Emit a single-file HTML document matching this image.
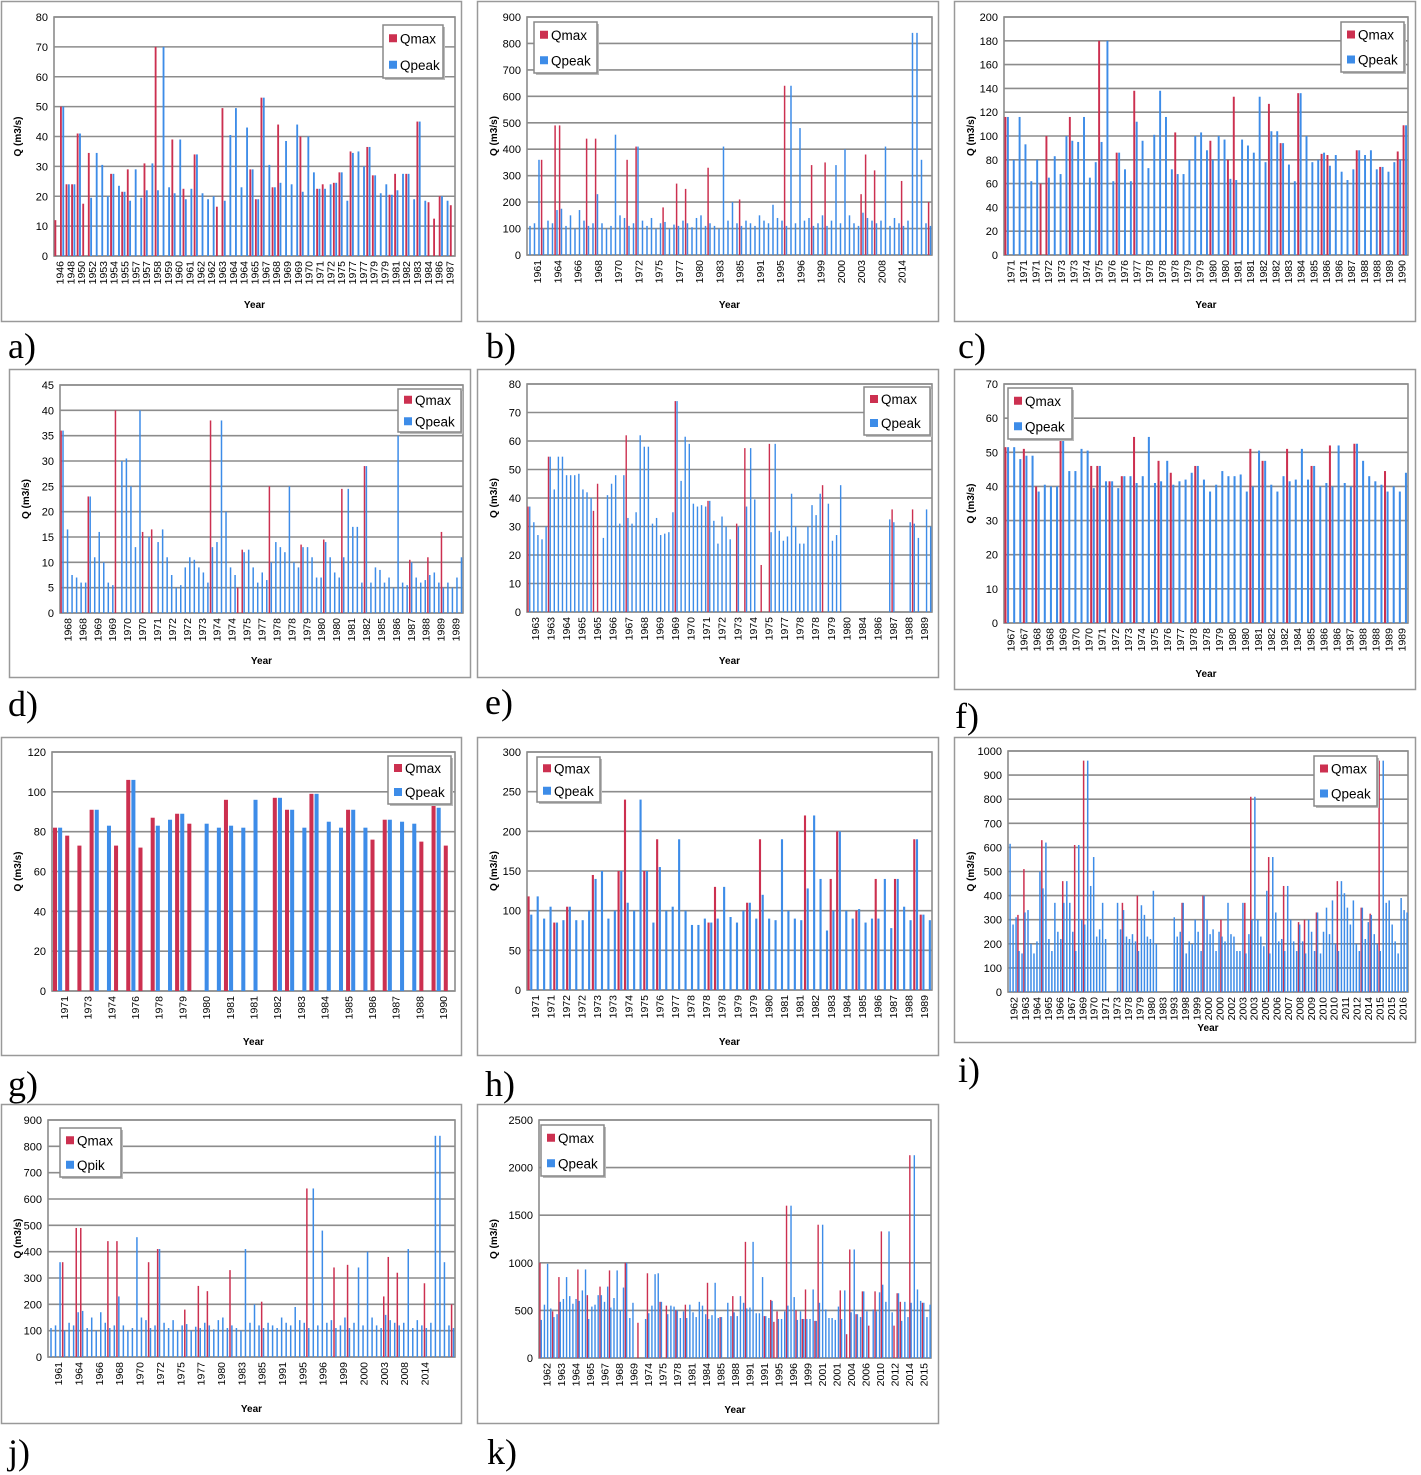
<!DOCTYPE html>
<html><head><meta charset="utf-8">
<style>
html,body{margin:0;padding:0;background:#fff;}
svg{display:block;font-family:"Liberation Sans",sans-serif;}
</style></head>
<body>
<svg id="fig" width="1421" height="1475" viewBox="0 0 1421 1475" xmlns="http://www.w3.org/2000/svg"></svg>
<script>
// ---------- DATA ----------
const aYears=[1946,1948,1950,1952,1953,1954,1955,1957,1957,1958,1959,1960,1961,1962,1962,1963,1964,1964,1965,1967,1968,1969,1969,1970,1971,1972,1975,1977,1977,1979,1979,1981,1982,1983,1984,1986,1987];
const aMax=[12,50,24,24,41,17.5,34.5,0,0,0,27.5,0,21.5,29,0,0,31,0,70,0,0,39,0,22.5,0,34,0,0,0,16.5,49.5,0,0,0,0,29,19,53,0,23,44,0,0,0,40,0,0,22.5,24,0,24.5,28,0,35,0,0,36.5,27,0,0,20.5,27.5,0,27.5,0,45,0,18,12.5,20,0,17];
const aPeak=[0,50,24,24,41,0,19.5,34.5,30.5,20,27.5,23.5,21.5,18.5,29,19.5,22,31,22,70,23,21,39,19,22.5,34,21,19,20,0,18.5,40.5,49.5,23,43,29,19,53,30.5,23,24.5,38.5,24,44,21.5,40,28,22.5,22.5,24,24.5,28,18.5,34.5,35,30,36.5,27,21,24,20.5,22,27.5,27.5,19,45,18.5,0,0,20,18.5,0];

const bYears=[1961,1964,1966,1968,1970,1972,1975,1977,1980,1983,1985,1991,1995,1996,1999,2000,2003,2008,2014,""];
const bPeak=[110,120,360,100,130,120,170,175,110,150,100,170,130,110,120,230,120,100,110,455,150,140,110,120,410,130,110,140,100,120,125,100,115,110,130,120,105,140,150,110,120,110,100,410,130,200,120,110,130,120,110,150,130,120,190,140,130,110,640,120,480,130,140,110,120,150,110,130,340,120,400,150,120,110,160,140,130,120,130,410,110,140,120,110,130,840,840,360,120,110];
const bMax=[0,0,0,360,0,0,490,490,0,0,0,0,0,440,0,440,0,0,0,0,0,0,360,0,410,0,0,0,0,0,180,0,0,270,0,250,0,0,0,0,330,0,0,0,0,0,0,210,0,0,0,0,0,0,0,0,0,640,0,0,0,0,0,340,0,0,350,0,0,0,0,0,0,0,230,380,0,320,0,0,0,0,0,280,0,0,0,0,0,200];

const cYears=[1971,1971,1971,1972,1973,1973,1974,1975,1976,1976,1977,1978,1978,1978,1979,1979,1980,1980,1981,1981,1982,1982,1983,1984,1985,1986,1986,1987,1988,1988,1989,1990];
const cMax=[116,0,0,0,0,0,60,100,0,0,0,116,0,0,0,0,180,0,0,86,0,0,138,0,0,0,0,0,0,103,0,0,0,0,0,96,0,0,80,133,0,0,0,0,0,127,0,94,0,0,136,0,0,0,85,84,0,0,0,0,88,0,0,0,74,0,0,87,109];
const cPeak=[116,80,116,93,62,80,0,65,83,68,100,96,95,116,65,78,95,180,62,86,72,62,112,96,73,101,138,116,72,68,68,80,100,103,88,80,100,97,64,63,97,92,86,133,78,104,104,94,76,62,136,100,78,80,86,75,84,70,63,72,88,84,88,72,74,70,78,80,109];

const dYears=[1968,1968,1969,1969,1970,1970,1971,1972,1972,1973,1974,1974,1975,1977,1978,1978,1979,1980,1980,1981,1982,1985,1986,1987,1988,1989,1989];
const dMax=[36,0,0,0,0,0,23,0,0,0,0,0,40,0,0,0,0,0,16,0,16.5,0,0,0,0,0,0,0,0,0,0,0,0,38,0,0,0,0,0,5,12.5,0,0,0,0,0,25,0,0,0,0,0,0,13.5,0,0,0,0,14.5,0,0,0,24.5,0,0,0,0,29,0,0,0,0,0,0,0,0,0,10.5,0,0,0,11,0,0,16,0,0,0];
const dPeak=[36,16.5,7.5,7,6,6,23,11,16,10,6,5.5,0,30,30.5,25,13,40,0,15,0,14,16.5,11,7.5,5,5.5,9,11,10.5,9,8,6,13,14,38,20,9,7.5,0,12,12.5,9,6,8,6.5,10,14,13,12,25,10,9,13,13,11,7,7,14,11,8,7,11,24.5,17,17,6,29,6,9,8.5,6,7,5,35,6,5.5,10,7,6,6.5,7.5,8,6,5,6,5,7,11];

const eYears=[1963,1963,1964,1965,1965,1966,1967,1968,1969,1969,1970,1971,1972,1973,1974,1975,1977,1978,1978,1979,1980,1984,1986,1987,1988,1989];
const eMax=[37,0,0,0,0,54.5,0,0,0,0,0,0,0,0,0,0,35.5,45,0,0,0,0,0,0,62,0,0,0,0,0,0,0,0,0,0,0,74,0,0,0,0,0,0,0,39,0,0,0,0,0,0,31,0,57.5,0,0,0,16.5,0,59,0,0,0,0,0,0,0,0,0,0,0,0,44.5,0,0,0,0,0,0,0,0,0,0,0,0,0,0,0,0,36,0,0,0,0,36,0];
const ePeak=[37,31.5,27,25.5,30,54.5,43,54.5,54.5,48,48,48,48.5,43,42,40,0,0,26,41,45,48,31,48,33,31,35,62,58,58,31,33,27,27.5,28,35,74,46,61.5,59,38,37,37.5,37,39,32,24,33.5,30,25.5,0,30,0,37,57.5,39.5,0,0,0,28,59,28.5,25,26.5,41.5,30,24,24,30,37.5,34,41.5,0,38,25,27,44.5,0,0,0,0,0,0,0,0,0,0,0,32.5,31.5,0,0,0,31.5,31,26,0,36,30];

const fYears=[1967,1967,1968,1968,1969,1970,1970,1971,1972,1973,1974,1975,1976,1977,1978,1978,1979,1980,1980,1981,1982,1982,1984,1985,1986,1986,1987,1988,1988,1989,1989];
const fMax=[51.5,0,0,51,0,40,0,0,0,54.5,0,0,0,0,46,46,0,41.5,0,43,0,54.5,0,0,0,47.5,0,44,0,0,0,46,0,0,0,0,0,0,0,0,51,0,47.5,0,0,0,51,0,0,0,46,0,0,52,0,0,0,52.5,0,0,0,0,44.5,0,0,0];
const fPeak=[51.5,51.5,48,49,49,38.5,40.5,40,40,54.5,44.5,44.5,51,50.5,39.5,46,41.5,41.5,39.5,43,43,41,43,54.5,41,41.5,47.5,40.5,41.5,42,44,46,42,38.5,40.5,44.5,43,43,43.5,38.5,40,50.5,47.5,40.5,38.5,43,41.5,42,51,42,46,40,41,40,52,41,40,52.5,47.5,43,41.5,40.5,38.5,40,38.5,44];

const gYears=[1971,1973,1974,1976,1978,1979,1980,1981,1981,1982,1983,1984,1985,1986,1987,1988,1990];
const gMax=[82,78,73,91,0,73,106,72,87,0,89,84,0,0,96,0,0,0,97,91,0,99,0,0,91,0,76,86,0,0,75,93,73];
const gPeak=[82,0,0,91,83,0,106,0,83,86,89,0,84,82,83,82,96,0,97,91,82,99,85,82,91,82,0,86,85,84,0,92,0];

const hYears=[1971,1971,1972,1972,1973,1973,1974,1975,1976,1977,1978,1978,1978,1979,1979,1980,1981,1981,1982,1983,1984,1985,1986,1987,1988,1989];
const hMax=[118,0,0,0,85,0,105,0,0,0,145,0,0,0,150,240,0,0,150,0,190,0,0,0,0,0,0,0,85,130,0,0,0,0,110,0,190,0,0,0,0,0,0,220,0,0,0,140,200,0,0,100,0,0,140,0,0,140,0,0,190,95,0];
const hPeak=[95,118,90,105,85,88,105,88,88,100,140,150,90,100,150,110,100,240,150,85,155,100,105,190,100,82,82,90,85,90,130,92,85,100,110,90,120,90,88,190,100,90,88,128,220,140,75,100,200,100,90,102,85,90,90,140,78,140,105,88,190,95,88];

const iYears=[1962,1963,1964,1965,1966,1967,1969,1970,1971,1973,1978,1979,1980,1983,1993,1998,1999,2000,2000,2002,2003,2003,2005,2006,2007,2008,2009,2010,2010,2011,2012,2014,2015,2015,2016];
const iPeak=[615,280,310,170,160,330,340,200,160,210,
500,430,620,220,170,370,250,220,370,460,
370,250,170,610,300,280,960,440,560,230,
260,370,220,0,0,0,370,260,340,230,
220,240,210,170,360,320,230,220,420,200,
0,0,0,0,0,310,230,250,370,160,
210,200,300,250,170,400,300,240,260,170,
250,230,210,370,240,230,170,170,370,160,
240,300,810,300,230,190,420,160,560,330,
210,220,170,440,300,210,170,280,210,160,
300,250,170,330,160,250,350,240,380,200,
170,460,410,350,280,380,200,170,350,220,
290,320,240,200,170,960,370,380,280,210,
160,390,340,330];
const iMax=[0,0,0,320,0,510,0,0,0,0,
0,630,0,0,0,0,0,0,460,0,
0,0,610,0,0,960,0,0,0,0,
0,0,0,0,0,0,0,0,370,0,
0,0,0,400,0,0,0,0,0,0,
0,0,0,0,0,0,0,0,370,0,
0,0,0,0,0,400,0,0,0,0,
0,300,0,0,0,0,0,0,0,370,
0,810,0,0,0,0,0,560,0,0,
0,0,440,0,0,0,0,290,0,300,
0,0,0,330,0,0,0,0,0,0,
460,0,0,0,0,0,0,0,350,0,
0,325,0,0,960,0,0,0,0,0,
0,0,0,0];

const jYears=[1961,1964,1966,1968,1970,1972,1975,1977,1980,1983,1985,1991,1995,1996,1999,2000,2003,2008,2014,""];
const jPeak=[110,120,360,100,130,120,170,175,110,150,100,170,130,110,120,230,120,100,110,455,150,140,110,120,410,130,110,140,100,120,125,100,115,110,130,120,105,140,150,110,120,110,100,410,130,200,120,110,130,120,110,150,130,120,190,140,130,110,640,120,480,130,140,110,120,150,110,130,340,120,400,150,120,110,160,140,130,120,130,410,110,140,120,110,130,840,840,360,120,110];
const jMax=[0,0,0,360,0,0,490,490,0,0,0,0,0,440,0,440,0,0,0,0,0,0,360,0,410,0,0,0,0,0,180,0,0,270,0,250,0,0,0,0,330,0,0,0,0,0,0,210,0,0,0,0,0,0,0,0,0,640,0,0,0,0,0,340,0,0,350,0,0,0,0,0,0,0,230,380,0,320,0,0,0,0,0,280,0,0,0,0,0,200];

const kYears=[1962,1963,1964,1965,1967,1968,1969,1974,1975,1978,1981,1984,1985,1988,1991,1991,1995,1996,1999,2001,2001,2004,2006,2010,2012,2014,2015];
const kPeak=[400,560,990,520,430,460,590,620,850,650,570,620,600,710,930,410,540,560,660,660,590,750,530,630,920,500,740,1000,420,580,
0,0,0,410,470,550,880,890,590,0,460,550,540,500,420,490,420,560,480,430,590,550,460,410,450,790,420,430,0,580,
440,480,440,650,580,520,530,1220,470,470,850,440,420,600,0,410,410,490,550,1600,640,400,490,410,410,410,720,390,580,1400,
510,420,420,400,540,410,710,0,480,1140,460,430,700,490,0,510,490,690,770,590,1330,480,0,680,390,590,430,580,2130,720,
600,580,430,560];
const kMax=[1000,0,0,0,490,0,850,0,0,0,0,0,930,0,0,660,0,0,0,750,0,0,920,0,0,0,0,1000,0,0,
0,370,0,0,890,0,0,0,590,0,550,0,0,500,0,0,560,0,0,0,0,0,0,790,0,0,0,430,0,0,
0,650,0,0,0,1220,0,0,0,0,0,440,0,610,380,490,0,0,1600,0,0,500,0,410,720,0,0,390,1400,0,
0,0,0,0,0,710,0,250,1140,0,460,0,700,0,340,0,700,0,1330,0,0,0,340,680,590,0,0,2130,0,0,
0,580,0,0];

const aTicks=[0,10,20,30,40,50,60,70,80];
const bTicks=[0,100,200,300,400,500,600,700,800,900];
const cTicks=[0,20,40,60,80,100,120,140,160,180,200];
const dTicks=[0,5,10,15,20,25,30,35,40,45];
const eTicks=[0,10,20,30,40,50,60,70,80];
const fTicks=[0,10,20,30,40,50,60,70];
const gTicks=[0,20,40,60,80,100,120];
const hTicks=[0,50,100,150,200,250,300];
const iTicks=[0,100,200,300,400,500,600,700,800,900,1000];
const jTicks=[0,100,200,300,400,500,600,700,800,900];
const kTicks=[0,500,1000,1500,2000,2500];

// ---------- DRAW ----------
const NS="http://www.w3.org/2000/svg";
const svg=document.getElementById('fig');
const RED="#cc3050", BLUE="#3d8ce8";
function mk(tag,attrs,parent){const e=document.createElementNS(NS,tag);for(const k in attrs)e.setAttribute(k,attrs[k]);(parent||svg).appendChild(e);return e;}

function panel(id,box,plot,leg,lab,maxA,peakA,years,ticks,peakName,fill){
  const g=mk('g',{});
  
  
  const fr=mk('rect',{x:box[0]+0.5,y:box[1]+0.5,width:box[2],height:box[3],fill:'#fff',stroke:'#999','stroke-width':1.5},g);
  
  
  const [x0,y0,x1,y1]=plot;
  const ymax=ticks[ticks.length-1];
  const ys=v=>y1-(v/ymax)*(y1-y0);
  ticks.forEach(t=>{
    const ln=mk('line',{x1:x0,x2:x1,y1:ys(t),y2:ys(t),stroke:'#8c8c8c','stroke-width':1.6},g);
    
    
    const tx=mk('text',{x:x0-6,y:ys(t)+4,'font-size':11,'text-anchor':'end',fill:'#000'},g);
    tx.textContent=t;
    
    
  });
  const bd=mk('rect',{x:x0,y:y0,width:x1-x0,height:y1-y0,fill:'none',stroke:'#8c8c8c','stroke-width':1.6},g);
  
  
  const n=Math.max(maxA.length,peakA.length);
  const cw=(x1-x0)/n;
  const bw=fill?Math.max(cw*0.5,1.2):Math.max(cw*0.33,1.4);
  for(let i=0;i<n;i++){
    const vm=maxA[i]||0, vp=peakA[i]||0;
    if(vm>0){const r=mk('rect',{x:x0+i*cw+cw*0.08,y:ys(vm),width:bw,height:y1-ys(vm),fill:RED},g);
      
      }
    if(vp>0){const r=mk('rect',{x:x0+i*cw+(fill?cw*0.45:cw*0.5),y:ys(vp),width:bw,height:y1-ys(vp),fill:BLUE},g);
      
      }
  }
  const ny=years.length, yw=(x1-x0)/ny;
  years.forEach((yr,j)=>{
    const cx=x0+(j+0.5)*yw+4, cy=y1+5;
    const t=mk('text',{x:cx,y:cy,'font-size':10.5,'text-anchor':'end',transform:`rotate(-90 ${cx} ${cy})`},g);
    t.textContent=yr;
    
    
  });
  const xt=mk('text',{x:(x0+x1)/2,y:lab[2],'font-size':10,'font-weight':'bold','text-anchor':'middle'},g);
  xt.textContent='Year';
  
  
  const yx=box[0]+20, yy=(y0+y1)/2;
  const yt=mk('text',{x:yx,y:yy,'font-size':10,'font-weight':'bold','text-anchor':'middle',transform:`rotate(-90 ${yx} ${yy})`},g);
  yt.textContent='Q (m3/s)';
  
  
  const lg=mk('g',{},g);
  
  
  mk('rect',{x:leg[0]+2,y:leg[1]+2,width:leg[2],height:leg[3],fill:'#bbb'},lg);
  mk('rect',{x:leg[0],y:leg[1],width:leg[2],height:leg[3],fill:'#fff',stroke:'#888','stroke-width':1.5},lg);
  const e1=mk('g',{},lg);
  
  
  mk('rect',{x:leg[0]+6,y:leg[1]+leg[3]*0.25-4,width:8,height:8,fill:RED},e1);
  const t1=mk('text',{x:leg[0]+17,y:leg[1]+leg[3]*0.25+5,'font-size':13.5},e1);t1.textContent='Qmax';
  const e2=mk('g',{},lg);
  
  
  mk('rect',{x:leg[0]+6,y:leg[1]+leg[3]*0.75-4,width:8,height:8,fill:BLUE},e2);
  const t2=mk('text',{x:leg[0]+17,y:leg[1]+leg[3]*0.75+5,'font-size':13.5},e2);t2.textContent=peakName;
  const pl=mk('text',{x:lab[0],y:lab[1],'font-size':36,'font-family':'"Liberation Serif",serif'},g);
  pl.textContent=id+')';
  
  
}

panel('a',[1,1,460,320],[54,17,455,256],[383,25,60,53],[8,358,308],aMax,aPeak,aYears,aTicks,'Qpeak');
panel('b',[477,1,461,320],[527,17,932,255],[534,22,63,51],[486,358,308],bMax,bPeak,bYears,bTicks,'Qpeak');
panel('c',[954,1,461,320],[1004,17,1408,255],[1341,22,63,50],[958,358,308],cMax,cPeak,cYears,cTicks,'Qpeak');
panel('d',[9,369,461,308],[60,385,463,613],[398,389,63,43],[8,716,664],dMax,dPeak,dYears,dTicks,'Qpeak');
panel('e',[477,369,461,308],[527,384,932,612],[864,387,66,48],[485,714,664],eMax,ePeak,eYears,eTicks,'Qpeak');
panel('f',[954,369,461,320],[1004,384,1408,623],[1008,388,64,51],[955,728,677],fMax,fPeak,fYears,fTicks,'Qpeak');
panel('g',[1,737,460,318],[52,752,455,991],[388,756,63,48],[8,1096,1045],gMax,gPeak,gYears,gTicks,'Qpeak');
panel('h',[477,737,461,318],[527,752,932,990],[537,757,63,45],[485,1096,1045],hMax,hPeak,hYears,hTicks,'Qpeak');
panel('i',[954,737,461,305],[1008,751,1408,992],[1314,756,63,50],[958,1082,1031],iMax,iPeak,iYears,iTicks,'Qpeak',true);
panel('j',[1,1104,460,319],[48,1120,455,1357],[60,1128,61,49],[8,1464,1412],jMax,jPeak,jYears,jTicks,'Qpik');
panel('k',[477,1104,461,319],[539,1120,931,1358],[541,1125,63,51],[487,1464,1413],kMax,kPeak,kYears,kTicks,'Qpeak');
</script>
</body></html>
